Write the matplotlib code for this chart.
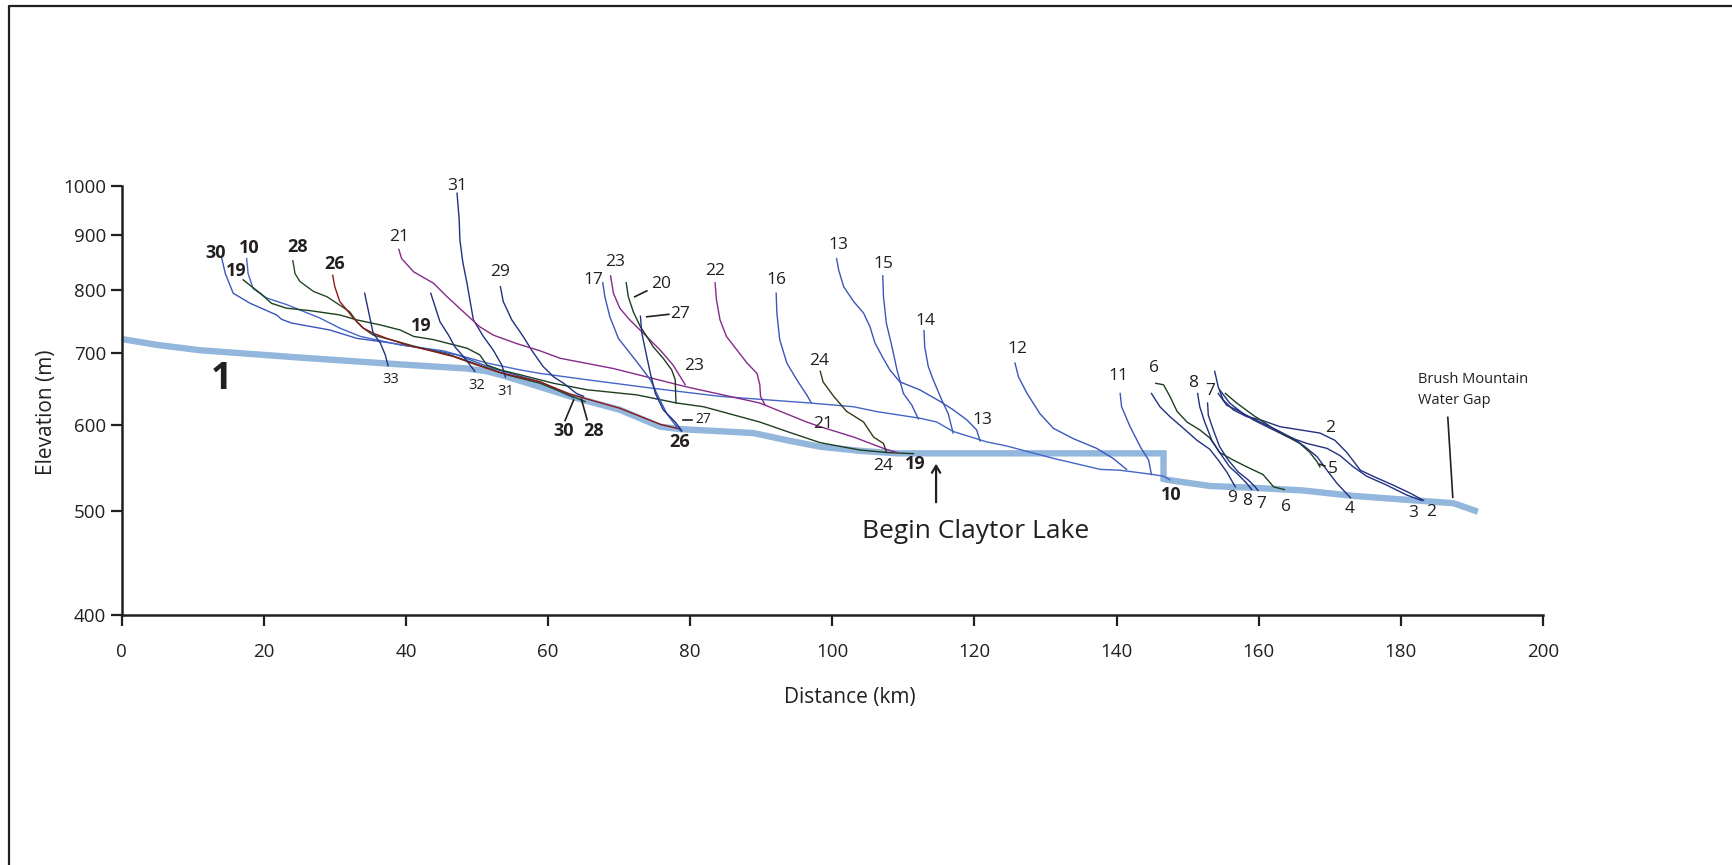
import matplotlib
matplotlib.use("Agg")
import matplotlib.pyplot as plt
from matplotlib.ticker import NullLocator
from matplotlib.lines import Line2D

plt.rcParams['font.family'] = ['Open Sans', 'DejaVu Sans']

INK = '#231f20'
BLUE = '#3a56b8'
NAVY = '#22307f'
GREEN = '#1d3f1f'
PURPLE = '#862a8a'
RED = '#8c1717'
OLIVE = '#3a3814'
RIVER = '#93b7dc'

# trunk stream (1): distance downstream (km) and elevation (m)
river_km = [0, 5, 11.0, 25.1, 39.2, 48.6, 51.4, 53.3, 55.6, 57.9, 63.1, 70.1, 75.8, 78.6,
            88.9, 93.6, 98.3, 103.9, 109.0, 146.6, 146.6, 147.1, 153.1, 159.2, 166.2,
            173.3, 180.3, 187.4, 190.4]
river_m = [721, 712, 704, 693, 683, 677, 673, 668, 661, 654, 638, 620, 598, 595,
           590, 581, 573, 568, 565, 565, 535, 534, 527, 525, 522,
           516, 512, 508, 500]

# tributary long profiles, (km, m) pairs from head to junction
s30 = [(14.1, 856), (14.6, 829), (15.7, 795), (18.1, 778), (21.8, 759), (22.5, 752), (23.9, 746),
       (29.3, 735), (33.1, 722), (37.8, 715), (43.9, 704), (47.2, 697), (52.3, 677), (58.9, 658),
       (63.6, 636)]
s10 = [(17.6, 856), (17.8, 829), (18.5, 803), (20.4, 787), (23.2, 776), (27.9, 754), (30.7, 738),
       (33.6, 725), (39.2, 712), (45.3, 703), (51.4, 685), (56.1, 675), (58.9, 670), (65.5, 661),
       (74.8, 649), (84.2, 638), (96.9, 629), (103.0, 624), (106.3, 617.5), (112.3, 609),
       (114.7, 604), (117.0, 592), (121.7, 579), (124.5, 574), (131.1, 559), (137.7, 546),
       (140.5, 545), (145.2, 540), (146.6, 538), (147.5, 534)]
s19 = [(17.1, 818), (19.5, 795), (21.1, 778), (23.2, 770), (26.5, 766), (30.7, 759), (33.1, 751),
       (36.4, 743), (39.2, 735), (41.1, 725), (43.9, 720), (48.6, 707), (50.4, 697), (51.4, 682),
       (53.3, 675), (56.1, 668), (60.8, 656), (65.5, 647), (72.5, 640), (78.1, 629), (81.9, 624),
       (89.8, 604), (93.6, 592), (98.3, 578), (103.9, 569), (107.7, 566), (111.4, 564.6)]
s28 = [(24.1, 852), (24.4, 829), (25.1, 815), (27.0, 798), (28.9, 789), (30.7, 775), (32.1, 764),
       (33.1, 748), (34.0, 738), (35.4, 727), (38.2, 719), (41.5, 709), (46.2, 697), (50.9, 680),
       (54.2, 668), (58.9, 656), (65.2, 631)]
s26 = [(29.7, 826), (30.0, 806), (30.7, 781), (31.7, 767), (32.6, 754), (34.0, 738), (35.4, 730),
       (37.3, 722), (40.1, 712), (43.9, 702), (46.7, 694.5), (50.0, 682), (53.3, 671), (58.9, 658),
       (63.1, 641), (70.1, 622), (75.8, 601), (78.6, 595)]
s33 = [(34.2, 795), (35.0, 751), (35.4, 730), (36.4, 715), (37.1, 697), (37.5, 681)]
s32 = [(43.5, 795), (44.8, 748), (46.0, 727), (46.9, 709), (48.1, 694.5), (49.7, 673)]
s31 = [(47.2, 984), (47.5, 930), (47.6, 891), (48.0, 850), (48.6, 812), (49.5, 751), (50.9, 725),
       (52.3, 704), (53.5, 682), (54.0, 665)]
s29 = [(53.3, 806), (53.7, 781), (54.9, 751), (56.5, 725), (57.7, 704), (59.3, 680), (60.8, 665),
       (62.2, 656), (64.0, 642), (65.0, 638)]
s21 = [(39.0, 873), (39.4, 856), (41.1, 832), (43.9, 812), (45.8, 789), (48.1, 764), (50.4, 740),
       (52.3, 727), (55.6, 714), (58.9, 703), (61.7, 692), (69.2, 677), (79.5, 651), (89.8, 629),
       (96.4, 604), (98.3, 598), (103.0, 585), (107.2, 571), (109.1, 566)]
s23 = [(68.8, 825), (69.2, 795), (70.1, 770), (71.5, 751), (73.4, 730), (75.8, 704), (77.6, 682),
       (79.3, 654)]
s17 = [(67.7, 813), (68.0, 789), (68.7, 756), (69.9, 722), (71.5, 700), (73.0, 680), (74.4, 661),
       (75.3, 642), (76.7, 615), (78.1, 598), (78.8, 592)]
s20 = [(71.0, 813), (71.3, 789), (72.0, 764), (73.0, 740), (73.9, 725), (74.8, 709), (76.2, 692),
       (77.4, 675), (77.9, 661), (78.0, 629)]
s27 = [(73.0, 757), (73.2, 730), (73.7, 704), (74.4, 670), (75.1, 642), (76.2, 620), (77.9, 604),
       (78.8, 593)]
s22 = [(83.5, 813), (83.7, 784), (84.2, 751), (85.1, 725), (86.6, 704), (88.0, 685), (89.4, 670),
       (89.8, 654), (89.9, 638), (90.5, 627)]
s16 = [(92.1, 795), (92.2, 762), (92.6, 720), (93.6, 685), (95.0, 661), (96.4, 640), (97.0, 630)]
s24 = [(98.3, 673), (98.7, 658), (100.2, 638), (102.0, 618), (104.4, 604), (105.8, 585),
       (107.2, 577), (107.6, 567)]
s13 = [(100.6, 856), (100.9, 835), (101.6, 806), (103.0, 781), (104.4, 762), (105.3, 740),
       (106.0, 715), (107.0, 695), (108.1, 675), (109.5, 658), (112.3, 647), (115.2, 631),
       (117.0, 620), (118.9, 607), (120.3, 594), (120.8, 580)]
s15 = [(107.1, 825), (107.2, 789), (107.6, 746), (108.4, 709), (109.1, 675), (110.0, 642),
       (111.2, 626), (112.1, 608)]
s14 = [(112.9, 734), (113.0, 709), (113.5, 680), (114.2, 661), (115.4, 633), (116.3, 615),
       (117.0, 590)]
s12 = [(125.7, 685), (126.2, 665), (127.4, 642), (129.2, 615), (131.1, 596), (133.9, 583),
       (137.2, 571), (139.5, 559), (141.4, 546)]
s11 = [(140.5, 642), (140.7, 624), (141.9, 598), (143.4, 572), (144.5, 557), (144.9, 540)]
s9 = [(144.9, 642), (146.1, 624), (147.5, 611), (149.4, 596), (151.3, 581), (153.1, 570),
      (154.3, 557), (155.5, 543), (156.7, 526)]
s6 = [(145.5, 656), (146.6, 654), (147.5, 638), (148.5, 618), (149.9, 604), (151.7, 594),
      (153.1, 584), (154.5, 566), (156.4, 557), (158.3, 549), (160.6, 540), (162.1, 526),
      (163.6, 523)]
s8 = [(151.4, 642), (151.7, 624), (152.4, 604), (153.4, 581), (154.5, 566), (155.9, 549),
      (157.1, 540), (158.3, 530), (159.0, 523)]
s7 = [(152.8, 629), (152.9, 613), (153.6, 594), (154.5, 573), (155.7, 557), (157.1, 543),
      (158.5, 534), (159.5, 526), (159.9, 522)]
s2 = [(153.8, 673), (154.3, 651), (155.0, 633), (156.4, 620), (158.3, 611), (160.2, 607),
      (163.0, 598), (165.8, 594), (168.6, 590), (170.7, 581), (172.4, 566), (174.3, 545),
      (176.1, 538), (178.9, 528), (181.3, 519), (183.2, 511)]
s3 = [(154.3, 642), (155.5, 626), (157.4, 617.5), (159.2, 607), (161.6, 596), (163.9, 586),
      (166.8, 577), (169.6, 571), (171.4, 562.5), (173.3, 549), (175.2, 538), (178.0, 528),
      (180.8, 517), (182.9, 511)]
s5 = [(155.3, 642), (156.9, 629), (159.2, 613), (162.0, 596), (163.9, 586), (165.8, 577),
      (167.2, 566), (168.2, 555), (168.6, 549)]
s4 = [(154.5, 647), (155.9, 629), (157.8, 615), (160.2, 604), (162.5, 594), (164.9, 583),
      (166.5, 573), (168.2, 561), (169.6, 545), (171.0, 530), (172.9, 514)]

streams = [
    (s30, BLUE), (s10, '#4565c8'), (s19, GREEN), (s28, '#264a26'), (s26, RED),
    (s33, NAVY), (s32, NAVY), (s31, NAVY), (s29, NAVY), (s21, PURPLE), (s23, PURPLE),
    (s17, BLUE), (s20, GREEN), (s27, NAVY), (s22, PURPLE), (s16, BLUE), (s24, OLIVE),
    (s13, BLUE), (s15, BLUE), (s14, BLUE), (s12, BLUE), (s11, BLUE),
    (s9, NAVY), (s6, GREEN), (s8, NAVY), (s7, NAVY),
    (s2, NAVY), (s3, NAVY), (s5, GREEN), (s4, NAVY),
]

fig = plt.figure(figsize=(17.32, 8.65), dpi=100)
ax = fig.add_axes([0.0702, 0.2887, 0.8207, 0.4967])

ax.plot(river_km, river_m, color=RIVER, lw=4.6, solid_joinstyle='miter', zorder=2)
for pts, col in streams:
    ax.plot([p[0] for p in pts], [p[1] for p in pts], color=col, lw=1.0, zorder=3)

ax.set_yscale('log')
ax.set_xlim(0, 200)
ax.set_ylim(400, 1000)
yt = [400, 500, 600, 700, 800, 900, 1000]
ax.set_yticks(yt)
ax.set_yticklabels([str(v) for v in yt])
ax.yaxis.set_minor_locator(NullLocator())
ax.set_xticks(range(0, 201, 20))
for s in ('top', 'right'):
    ax.spines[s].set_visible(False)
for s in ('left', 'bottom'):
    ax.spines[s].set_linewidth(1.8)
    ax.spines[s].set_color(INK)
ax.tick_params(axis='y', length=8, width=1.6, pad=3, labelsize=13.5, colors=INK)
ax.tick_params(axis='x', length=8, width=1.6, pad=12, labelsize=13.5, colors=INK)

fig.text(0.0268, 0.5237, 'Elevation (m)', rotation=90, ha='center', va='center',
         fontsize=15, color=INK)
fig.text(0.4905, 0.1942, 'Distance (km)', ha='center', va='center', fontsize=15, color=INK)

# stream numbers: text, km, m, size, weight
labels = [
    ('1', 14.0, 662, 27, 'bold'),
    ('30', 13.2, 866, 13, 'bold'), ('10', 17.9, 875, 13, 'bold'), ('19', 16.2, 834, 13, 'bold'),
    ('28', 24.8, 877, 13, 'bold'), ('26', 30.0, 846, 13, 'bold'), ('21', 39.0, 897, 12.5, 'normal'),
    ('31', 47.2, 1000, 12.5, 'normal'), ('29', 53.3, 832, 12.5, 'normal'),
    ('19', 42.1, 741, 13, 'bold'),
    ('33', 37.9, 661, 10.5, 'normal'), ('32', 49.9, 653, 10.5, 'normal'), ('31', 54.1, 644, 10.5, 'normal'),
    ('30', 62.2, 593, 13, 'bold'), ('28', 66.4, 593, 13, 'bold'),
    ('17', 66.4, 818, 12.5, 'normal'), ('23', 69.5, 850, 12.5, 'normal'), ('20', 75.9, 811, 12.5, 'normal'),
    ('27', 78.6, 761, 12.5, 'normal'), ('23', 80.5, 681, 12.5, 'normal'), ('22', 83.5, 834, 12.5, 'normal'),
    ('16', 92.2, 817, 12.5, 'normal'), ('13', 100.9, 881, 12.5, 'normal'), ('15', 107.2, 846, 12.5, 'normal'),
    ('14', 113.1, 750, 12.5, 'normal'), ('12', 126.0, 706, 12.5, 'normal'), ('24', 98.1, 688, 12.5, 'normal'),
    ('21', 98.7, 601, 12.5, 'normal'), ('27', 81.8, 607, 10, 'normal'), ('26', 78.5, 579, 13, 'bold'),
    ('13', 121.1, 607, 12.5, 'normal'), ('24', 107.2, 550, 12.5, 'normal'), ('19', 111.6, 552.6, 13, 'bold'),
    ('11', 140.3, 667, 12.5, 'normal'), ('6', 145.3, 678, 12.5, 'normal'), ('8', 150.8, 656, 12.5, 'normal'),
    ('7', 153.1, 645, 12.5, 'normal'), ('2', 170.0, 597, 12.5, 'normal'), ('5', 170.5, 547, 12.5, 'normal'),
    ('10', 147.7, 517, 13, 'bold'), ('9', 156.3, 513.5, 12.5, 'normal'), ('8', 158.4, 510, 12.5, 'normal'),
    ('7', 160.4, 507.5, 12.5, 'normal'), ('6', 163.8, 504, 12.5, 'normal'), ('4', 172.8, 501.7, 12.5, 'normal'),
    ('3', 181.8, 497, 12.5, 'normal'), ('2', 184.3, 499, 12.5, 'normal'),
]
for txt, km, m, size, weight in labels:
    ax.text(km, m, txt, ha='center', va='center', fontsize=size, fontweight=weight,
            color=INK, clip_on=False, zorder=5)

# leader ticks from labels to streams
leaders = [
    ((63.6, 62.4), (633, 606)), ((64.7, 65.5), (634, 607)),
    ((72.2, 73.9), (789, 799)), ((73.9, 77.0), (756, 760)),
    ((79.0, 80.2), (606, 606)), ((168.6, 169.3), (552, 550)),
    ((187.3, 186.6), (514.5, 610)),
]
for xs, ys in leaders:
    ax.plot(xs, ys, color=INK, lw=1.2, zorder=4)

ax.annotate('', xy=(114.6, 556), xytext=(114.6, 506),
            arrowprops=dict(arrowstyle='->,head_length=0.5,head_width=0.3', lw=1.6, color=INK))
ax.text(120.1, 478.6, 'Begin Claytor Lake', ha='center', va='center', fontsize=19, color=INK)
ax.text(182.4, 662, 'Brush Mountain', ha='left', va='center', fontsize=10.5, color=INK)
ax.text(182.4, 633, 'Water Gap', ha='left', va='center', fontsize=10.5, color=INK)

# page frame
fig.add_artist(Line2D([0.0051, 0.0051, 1.0], [0.0, 0.9936, 0.9936], color=INK, lw=1.6,
                      transform=fig.transFigure))

fig.savefig('out.png', dpi=100)
